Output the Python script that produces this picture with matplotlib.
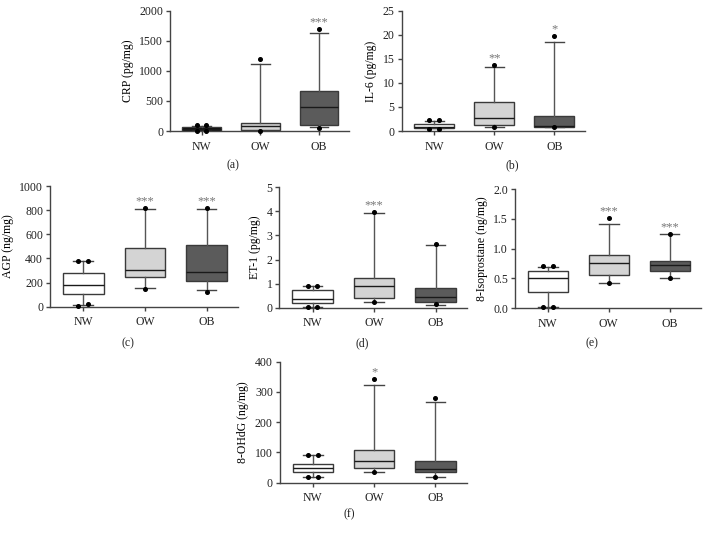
import matplotlib
matplotlib.use("Agg")
import matplotlib.pyplot as plt

plt.rcParams['font.family'] = ['Liberation Serif', 'DejaVu Serif']

groups = ["NW", "OW", "OB"]

# ---- CRP ----
crp_q1 = [5, 17, 94]
crp_med = [35, 89, 393]
crp_q3 = [67, 140, 665]
crp_wlo = [2, 5, 61]
crp_whi = [84, 1108, 1629]
crp_fhi = [[97, 97], [1202], [1695]]
crp_flo = [[0, 0], [0], [55]]
crp_sig = ["", "", "***"]

# ---- IL-6 ----
il6_q1 = [0.62, 1.3, 0.9]
il6_med = [0.9, 2.63, 1.04]
il6_q3 = [1.45, 6.0, 3.05]
il6_wlo = [0.55, 0.83, 0.83]
il6_whi = [2.15, 13.4, 18.6]
il6_fhi = [[2.2, 2.2], [13.7], [19.7]]
il6_flo = [[0.5, 0.5], [0.76], [0.76]]
il6_sig = ["", "**", "*"]

# ---- AGP ----
agp_q1 = [107, 245, 215]
agp_med = [179, 300, 284]
agp_q3 = [278, 485, 515]
agp_wlo = [14, 151, 135]
agp_whi = [375, 813, 813]
agp_fhi = [[377, 377], [821], [821]]
agp_flo = [[8, 22], [149], [121]]
agp_sig = ["", "***", "***"]

# ---- ET-1 ----
et1_q1 = [0.21, 0.42, 0.22]
et1_med = [0.375, 0.89, 0.44]
et1_q3 = [0.74, 1.25, 0.80]
et1_wlo = [0.04, 0.25, 0.12]
et1_whi = [0.90, 3.92, 2.62]
et1_fhi = [[0.9, 0.9], [3.96], [2.66]]
et1_flo = [[0.04, 0.04], [0.22], [0.14]]
et1_sig = ["", "***", ""]

# ---- 8-Isoprostane ----
iso_q1 = [0.267, 0.563, 0.63]
iso_med = [0.507, 0.758, 0.72]
iso_q3 = [0.63, 0.886, 0.80]
iso_wlo = [0.03, 0.42, 0.50]
iso_whi = [0.70, 1.42, 1.24]
iso_fhi = [[0.71, 0.71], [1.51], [1.245]]
iso_flo = [[0.03, 0.03], [0.42], [0.50]]
iso_sig = ["", "***", "***"]

# ---- 8-OHdG ----
ohdg_q1 = [35, 47, 35]
ohdg_med = [49, 72, 46]
ohdg_q3 = [62, 108, 73]
ohdg_wlo = [19, 35, 20]
ohdg_whi = [90.6, 322, 268]
ohdg_fhi = [[93, 93], [342], [279]]
ohdg_flo = [[19, 19], [35], [18]]
ohdg_sig = ["", "*", ""]

panels = [
    dict(label="(a)", ylabel="CRP (pg/mg)", ymax=2000, yticks=[0, 500, 1000, 1500, 2000], fmt="{:.0f}",
         q1=crp_q1, med=crp_med, q3=crp_q3, wlo=crp_wlo, whi=crp_whi, fhi=crp_fhi, flo=crp_flo, sig=crp_sig,
         rect=[0.2418, 0.756, 0.2546, 0.224], lab=(233, 165), black_nw=True),
    dict(label="(b)", ylabel="IL-6 (pg/mg)", ymax=25, yticks=[0, 5, 10, 15, 20, 25], fmt="{:.0f}",
         q1=il6_q1, med=il6_med, q3=il6_q3, wlo=il6_wlo, whi=il6_whi, fhi=il6_fhi, flo=il6_flo, sig=il6_sig,
         rect=[0.5714, 0.756, 0.2607, 0.224], lab=(512, 165), black_nw=False),
    dict(label="(c)", ylabel="AGP (ng/mg)", ymax=1000, yticks=[0, 200, 400, 600, 800, 1000], fmt="{:.0f}",
         q1=agp_q1, med=agp_med, q3=agp_q3, wlo=agp_wlo, whi=agp_whi, fhi=agp_fhi, flo=agp_flo, sig=agp_sig,
         rect=[0.0711, 0.4289, 0.2674, 0.2247], lab=(128, 343), black_nw=False),
    dict(label="(d)", ylabel="ET-1 (pg/mg)", ymax=5, yticks=[0, 1, 2, 3, 4, 5], fmt="{:.0f}",
         q1=et1_q1, med=et1_med, q3=et1_q3, wlo=et1_wlo, whi=et1_whi, fhi=et1_fhi, flo=et1_flo, sig=et1_sig,
         rect=[0.3973, 0.427, 0.267, 0.2242], lab=(362, 343), black_nw=False),
    dict(label="(e)", ylabel="8-Isoprostane (ng/mg)", ymax=2.0, yticks=[0, 0.5, 1.0, 1.5, 2.0], fmt="{:.1f}",
         q1=iso_q1, med=iso_med, q3=iso_q3, wlo=iso_wlo, whi=iso_whi, fhi=iso_fhi, flo=iso_flo, sig=iso_sig,
         rect=[0.7326, 0.4259, 0.2641, 0.2221], lab=(592, 343), black_nw=False),
    dict(label="(f)", ylabel="8-OHdG (ng/mg)", ymax=400, yticks=[0, 100, 200, 300, 400], fmt="{:.0f}",
         q1=ohdg_q1, med=ohdg_med, q3=ohdg_q3, wlo=ohdg_wlo, whi=ohdg_whi, fhi=ohdg_fhi, flo=ohdg_flo, sig=ohdg_sig,
         rect=[0.398, 0.1011, 0.2659, 0.2254], lab=(349, 514), black_nw=False),
]

W, H = 703, 537
fig = plt.figure(figsize=(W / 100, H / 100), dpi=100)
fill_colors = ["white", "#d4d4d4", "#5b5b5b"]
edge = "#3a3a3a"
FS = 8.5

for p in panels:
    ax = fig.add_axes(p["rect"])
    stats = []
    for i in range(3):
        stats.append(dict(med=p["med"][i], q1=p["q1"][i], q3=p["q3"][i],
                          whislo=p["wlo"][i], whishi=p["whi"][i], fliers=[], label=groups[i]))
    bp = ax.bxp(stats, positions=[1, 2, 3], widths=0.66, patch_artist=True, showfliers=False,
                capwidths=0.32,
                boxprops=dict(edgecolor=edge, linewidth=1.0),
                whiskerprops=dict(color="#555555", linewidth=1.0),
                capprops=dict(color="#444444", linewidth=1.0),
                medianprops=dict(color="#1a1a1a", linewidth=1.0))
    for i, patch in enumerate(bp["boxes"]):
        c = fill_colors[i]
        if i == 0 and p["black_nw"]:
            c = "#0a0a0a"
        patch.set_facecolor(c)
    for i in range(3):
        for vals in (p["fhi"][i], p["flo"][i]):
            offs = [-0.08, 0.08] if len(vals) == 2 else [0.0]
            ax.plot([i + 1 + o for o in offs], vals, "o", color="black", ms=2.6,
                    clip_on=False, zorder=6)
        if p["sig"][i]:
            ytop = max(p["fhi"][i])
            ax.text(i + 1, ytop + 0.055 * p["ymax"], p["sig"][i], ha="center", va="center",
                    fontsize=9, color="#777777")
    ax.set_xlim(0.46, 3.51)
    ax.set_ylim(0, p["ymax"])
    ax.set_yticks(p["yticks"])
    ax.set_yticklabels([p["fmt"].format(v) for v in p["yticks"]], fontsize=FS)
    ax.set_xticks([1, 2, 3])
    ax.set_xticklabels(groups, fontsize=FS)
    ax.set_ylabel(p["ylabel"], fontsize=FS, labelpad=4)
    for s in ("top", "right"):
        ax.spines[s].set_visible(False)
    for s in ("left", "bottom"):
        ax.spines[s].set_color("#444444")
        ax.spines[s].set_linewidth(1.0)
    ax.tick_params(axis="both", colors="#444444", length=3, width=1.0, labelcolor="#222222", pad=2)
    ax.tick_params(axis="x", pad=4)
    fig.text(p["lab"][0] / W, 1 - p["lab"][1] / H, p["label"], ha="center", va="center",
             fontsize=FS, color="#222222")

fig.savefig("out.png", dpi=100)
